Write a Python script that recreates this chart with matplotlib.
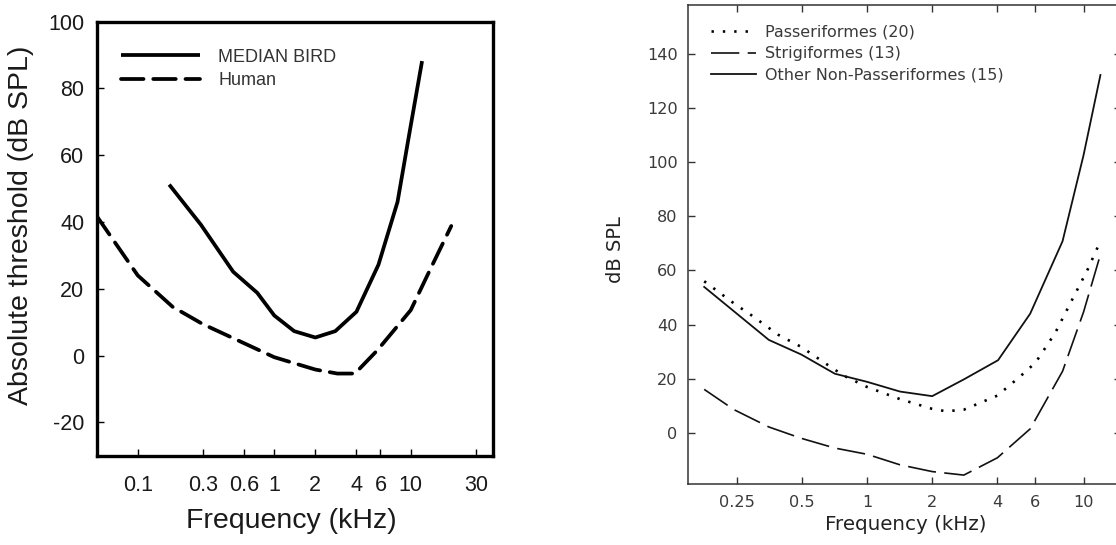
import matplotlib
matplotlib.use("Agg")
import matplotlib.pyplot as plt
from matplotlib.ticker import FixedLocator, FixedFormatter, NullLocator

plt.rcParams["axes.unicode_minus"] = False

# left panel: median bird vs human audiogram
bird_freq = [0.17, 0.29, 0.5, 0.75, 1.0, 1.4, 2.0, 2.8, 4.0, 5.8, 8.0, 9.7, 12.1]
bird_db = [51.2, 39.2, 25.1, 18.8, 12.0, 7.3, 5.4, 7.3, 13.1, 27.2, 46.0, 65.8, 88.2]
human_freq = [0.05, 0.1, 0.18, 0.3, 0.6, 1.0, 2.0, 2.9, 3.9, 5.7, 10.0, 14.0, 19.8]
human_db = [41.8, 24.0, 14.6, 9.4, 3.7, -0.5, -4.2, -5.4, -5.4, 1.6, 13.6, 26.1, 38.8]
left_xticks = [0.1, 0.3, 0.6, 1, 2, 4, 6, 10, 30]
left_xlabels = ["0.1", "0.3", "0.6", "1", "2", "4", "6", "10", "30"]
left_yticks = [-20, 0, 20, 40, 60, 80, 100]

# right panel: bird orders
pass_freq = [0.177, 0.243, 0.294, 0.389, 0.497, 0.635, 0.78, 1.0, 1.42, 2.0, 2.32, 2.8, 4.0, 5.1, 6.0, 7.4, 8.94, 10.4, 11.9]
pass_db = [56.0, 47.8, 43.3, 36.2, 31.7, 25.9, 21.1, 16.9, 12.4, 8.8, 7.9, 8.5, 13.7, 20.8, 25.9, 36.9, 49.8, 60.0, 70.4]
strig_freq = [0.177, 0.243, 0.352, 0.497, 0.71, 1.0, 1.42, 2.0, 2.8, 4.0, 5.67, 8.0, 10.0, 11.9]
strig_db = [16.0, 8.5, 2.1, -2.1, -5.7, -8.0, -11.9, -14.4, -15.7, -9.3, 1.4, 22.7, 44.6, 65.2]
other_freq = [0.177, 0.352, 0.497, 0.71, 1.0, 1.42, 2.0, 2.8, 4.03, 5.67, 8.0, 10.0, 11.97]
other_db = [53.9, 34.3, 28.9, 21.8, 18.8, 15.2, 13.5, 19.7, 26.8, 44.0, 70.8, 102.6, 132.3]
right_xticks = [0.25, 0.5, 1, 2, 4, 6, 10]
right_xlabels = ["0.25", "0.5", "1", "2", "4", "6", "10"]
right_yticks = [0, 20, 40, 60, 80, 100, 120, 140]

fig = plt.figure(figsize=(11.16, 5.45), dpi=100)

# ---- left panel
ax1 = fig.add_axes([0.0866, 0.1639, 0.3551, 0.7963])
lfont = "Liberation Sans"
lcol = "#1a1a1a"
ax1.plot(bird_freq, bird_db, color="black", lw=2.7, solid_capstyle="butt",
         label="MEDIAN BIRD")
ax1.plot(human_freq, human_db, color="black", lw=2.7, dashes=(6, 2.6),
         dash_capstyle="round", label="Human")
ax1.set_xscale("log")
ax1.set_xlim(0.05, 40)
ax1.set_ylim(-30, 100)
ax1.xaxis.set_major_locator(FixedLocator(left_xticks))
ax1.xaxis.set_major_formatter(FixedFormatter(left_xlabels))
ax1.xaxis.set_minor_locator(NullLocator())
ax1.set_yticks(left_yticks)
for s in ax1.spines.values():
    s.set_linewidth(2.4)
ax1.tick_params(direction="in", length=5, width=1, labelsize=15.5,
                labelcolor=lcol)
ax1.tick_params(axis="x", pad=14)
ax1.tick_params(axis="y", pad=9)
for lbl in ax1.get_xticklabels() + ax1.get_yticklabels():
    lbl.set_fontfamily(lfont)
ax1.set_xlabel("Frequency (kHz)", fontsize=20.5, family=lfont, color=lcol)
ax1.set_ylabel("Absolute threshold (dB SPL)", fontsize=20.5, family=lfont, color=lcol)
ax1.xaxis.set_label_coords(0.49, -0.12)
ax1.yaxis.set_label_coords(-0.158, 0.53)
leg1 = ax1.legend(loc="upper left", bbox_to_anchor=(0.02, 0.975), frameon=False,
                  handlelength=4.4, handletextpad=1.0, labelspacing=0.35,
                  prop={"family": lfont, "size": 13})
for t in leg1.get_texts():
    t.set_color("#333333")

# ---- right panel
ax2 = fig.add_axes([0.6165, 0.1119, 0.388, 0.8795])
rfont = "DejaVu Sans"
rcol = "#3a3a3a"
ax2.plot(pass_freq, pass_db, color="black", lw=1.9, linestyle=(0, (0.9, 3.4)),
         label="Passeriformes (20)")
ax2.plot(strig_freq, strig_db, color="#111111", lw=1.2, dashes=(17, 5),
         label="Strigiformes (13)")
ax2.plot(other_freq, other_db, color="#111111", lw=1.3,
         label="Other Non-Passeriformes (15)")
ax2.set_xscale("log")
ax2.set_xlim(0.149, 14.9)
ax2.set_ylim(-19, 158.3)
ax2.xaxis.set_major_locator(FixedLocator(right_xticks))
ax2.xaxis.set_major_formatter(FixedFormatter(right_xlabels))
ax2.xaxis.set_minor_locator(NullLocator())
ax2.set_yticks(right_yticks)
for s in ax2.spines.values():
    s.set_linewidth(1.1)
    s.set_color("#333333")
ax2.tick_params(direction="in", length=5, width=1, color="#333333",
                labelsize=11.6, labelcolor=rcol, top=True, right=True)
ax2.tick_params(axis="x", pad=8)
ax2.tick_params(axis="y", pad=7.5)
ax2.set_xlabel("Frequency (kHz)", fontsize=14.3, family=rfont, color="#222222")
ax2.set_ylabel("dB SPL", fontsize=14, family=rfont, color="#222222")
ax2.xaxis.set_label_coords(0.502, -0.065)
ax2.yaxis.set_label_coords(-0.146, 0.49)
leg2 = ax2.legend(loc="upper left", bbox_to_anchor=(0.02, 0.988), frameon=False,
                  handlelength=2.8, handletextpad=0.6, labelspacing=0.4,
                  prop={"family": rfont, "size": 11.5})
for t in leg2.get_texts():
    t.set_color(rcol)

fig.savefig("out.png", dpi=100)
